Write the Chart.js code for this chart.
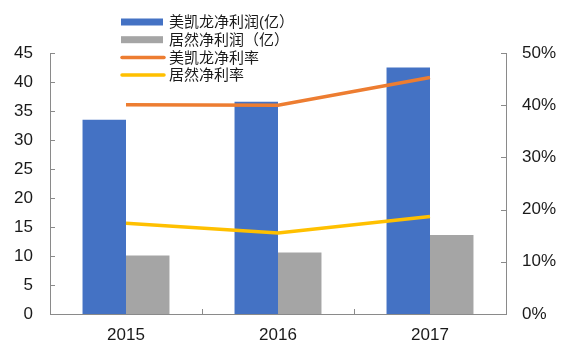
<!DOCTYPE html>
<html>
<head>
<meta charset="utf-8">
<script src="https://cdn.jsdelivr.net/npm/chart.js@4"></script>
<style>
	body { margin: 0; background: #fff; }
	#wrap { position: relative; width: 580px; height: 353px; }
</style>
</head>
<body>
<div id="wrap"><canvas id="chart"></canvas></div>
<script>
const years = ['2015', '2016', '2017']
const meikailongProfit = [33.5, 36.6, 42.5]
const juranProfit = [10.1, 10.6, 13.6]
const meikailongMargin = [40.1, 40.0, 45.3]
const juranMargin = [17.4, 15.5, 18.7]
const leftTicks = { min: 0, max: 45, step: 5 }
const rightTicks = { min: 0, max: 50, step: 10 }

const font = '"Liberation Sans", "Noto Sans CJK SC", Arial, sans-serif'
const axisColor = '#8a8a8a'
const textColor = '#1a1a1a'

// legend stacked one item per row, drawn at the top left of the plot
const stackedLegend = {
	id: 'stackedLegend',
	afterDraw(chart) {
		const ctx = chart.ctx
		ctx.save()
		chart.data.datasets.forEach((ds, i) => {
			const y = 22 + i * 17.7
			if (ds.type === 'line') {
				ctx.strokeStyle = ds.borderColor
				ctx.lineWidth = 3.5
				ctx.lineCap = 'round'
				ctx.beginPath()
				ctx.moveTo(122, y)
				ctx.lineTo(164, y)
				ctx.stroke()
			} else {
				ctx.fillStyle = ds.backgroundColor
				ctx.fillRect(121, y - 3.5, 42, 7)
			}
			ctx.fillStyle = textColor
			ctx.font = '15px ' + font
			ctx.textBaseline = 'middle'
			ctx.fillText(ds.label, 169, y + 1)
		})
		ctx.restore()
	},
}

// short tick marks pointing into the plot
const innerTicks = {
	id: 'innerTicks',
	afterDraw(chart) {
		const ctx = chart.ctx
		const area = chart.chartArea
		const len = 5
		ctx.save()
		ctx.strokeStyle = axisColor
		ctx.lineWidth = 1
		ctx.beginPath()
		const y = chart.scales.y
		y.ticks.forEach((t, i) => {
			const p = Math.round(y.getPixelForTick(i)) + 0.5
			ctx.moveTo(area.left, p)
			ctx.lineTo(area.left + len, p)
		})
		const y1 = chart.scales.y1
		y1.ticks.forEach((t, i) => {
			const p = Math.round(y1.getPixelForTick(i)) + 0.5
			ctx.moveTo(area.right - len, p)
			ctx.lineTo(area.right, p)
		})
		const x = chart.scales.x
		for (let i = 0; i < x.ticks.length - 1; i++) {
			const p = Math.round((x.getPixelForTick(i) + x.getPixelForTick(i + 1)) / 2) + 0.5
			ctx.moveTo(p, area.bottom)
			ctx.lineTo(p, area.bottom - len)
		}
		ctx.stroke()
		ctx.restore()
	},
}

const context = document.getElementById('chart').getContext('2d')
const chart = new Chart(context, {
	data: {
		labels: years,
		datasets: [
			{
				type: 'bar',
				label: '美凯龙净利润(亿）',
				data: meikailongProfit,
				backgroundColor: '#4472c4',
				yAxisID: 'y',
				categoryPercentage: 0.572,
				barPercentage: 1,
				order: 2,
			},
			{
				type: 'bar',
				label: '居然净利润（亿）',
				data: juranProfit,
				backgroundColor: '#a5a5a5',
				yAxisID: 'y',
				categoryPercentage: 0.572,
				barPercentage: 1,
				order: 2,
			},
			{
				type: 'line',
				label: '美凯龙净利率',
				data: meikailongMargin,
				borderColor: '#ed7d31',
				borderWidth: 3.5,
				pointRadius: 0,
				yAxisID: 'y1',
				order: 1,
			},
			{
				type: 'line',
				label: '居然净利率',
				data: juranMargin,
				borderColor: '#ffc000',
				borderWidth: 3.5,
				pointRadius: 0,
				yAxisID: 'y1',
				order: 0,
			},
		],
	},
	options: {
		responsive: true,
		maintainAspectRatio: false,
		animation: false,
		layout: { padding: { top: 53, left: 0, right: 0, bottom: 0 } },
		plugins: {
			legend: { display: false },
			tooltip: { enabled: false },
		},
		scales: {
			x: {
				grid: { display: false, drawTicks: false },
				border: { color: axisColor, width: 1 },
				ticks: { color: textColor, font: { family: font, size: 17 }, padding: 11 },
				afterFit: (scale) => { scale.height = 39 },
			},
			y: {
				position: 'left',
				min: leftTicks.min,
				max: leftTicks.max,
				grid: { display: false, drawTicks: false },
				border: { color: axisColor, width: 1 },
				ticks: {
					stepSize: leftTicks.step,
					color: textColor,
					font: { family: font, size: 17 },
					padding: 17,
				},
				afterFit: (scale) => { scale.width = 50 },
			},
			y1: {
				position: 'right',
				min: rightTicks.min,
				max: rightTicks.max,
				grid: { display: false, drawTicks: false },
				border: { color: axisColor, width: 1 },
				ticks: {
					stepSize: rightTicks.step,
					color: textColor,
					font: { family: font, size: 17 },
					padding: 16,
					callback: (value) => value + '%',
				},
				afterFit: (scale) => { scale.width = 74 },
			},
		},
	},
	plugins: [stackedLegend, innerTicks],
})
</script>
</body>
</html>
